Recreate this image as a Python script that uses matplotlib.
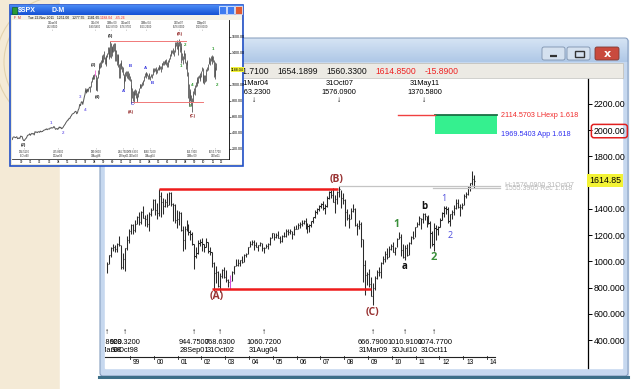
import numpy as np
import matplotlib
matplotlib.use("Agg")
import matplotlib.pyplot as plt
import matplotlib.transforms as mtransforms
from matplotlib.patches import Rectangle, FancyBboxPatch, Arc
from matplotlib.colors import LinearSegmentedColormap

plt.rcParams['font.family'] = ['Liberation Sans', 'DejaVu Sans']

W, H = 634, 389

# ---- monthly S&P 500 bars, Jan 1998 .. Jun 2013 ----
spx_high = [
    992.7, 1050.5, 1105.7, 1130.5, 1123.0, 1138.5, 1190.6, 1121.0, 1066.1, 1104.1, 1193.0, 1244.9,
    1280.4, 1283.8, 1316.5, 1347.8, 1376.0, 1383.1, 1420.3, 1350.9, 1361.4, 1373.2, 1405.0, 1473.1,
    1478.0, 1444.6, 1552.9, 1527.2, 1481.5, 1474.6, 1517.3, 1525.2, 1530.1, 1441.4, 1438.5, 1389.1,
    1383.4, 1376.4, 1267.4, 1269.3, 1315.9, 1286.6, 1239.8, 1226.3, 1135.5, 1110.6, 1163.4, 1173.0,
    1177.0, 1130.2, 1173.9, 1147.8, 1106.6, 1070.7, 994.5, 965.0, 924.0, 907.4, 941.8, 954.3,
    935.1, 864.6, 895.9, 924.2, 965.4, 1015.3, 1015.4, 1011.0, 1040.3, 1053.8, 1063.7, 1112.6,
    1155.4, 1159.0, 1163.2, 1150.6, 1127.7, 1146.3, 1140.8, 1109.7, 1131.5, 1142.1, 1188.5, 1217.3,
    1217.8, 1212.4, 1229.1, 1191.9, 1199.6, 1219.6, 1245.2, 1245.9, 1243.1, 1233.3, 1270.6, 1275.8,
    1294.9, 1297.6, 1310.9, 1318.2, 1326.7, 1290.7, 1280.4, 1306.7, 1340.3, 1389.5, 1407.9, 1431.8,
    1441.6, 1461.6, 1438.9, 1498.0, 1535.6, 1540.6, 1555.9, 1503.9, 1538.7, 1576.1, 1545.8, 1523.6,
    1471.8, 1396.0, 1359.7, 1404.6, 1440.2, 1404.1, 1292.2, 1313.2, 1303.0, 1167.0, 1007.5, 918.9,
    943.9, 877.9, 833.0, 888.7, 930.2, 956.2, 996.7, 1039.5, 1080.2, 1101.4, 1113.7, 1130.4,
    1150.5, 1112.4, 1180.2, 1219.8, 1206.0, 1131.2, 1121.0, 1129.2, 1148.9, 1196.1, 1227.1, 1262.6,
    1302.7, 1344.1, 1332.3, 1364.6, 1370.6, 1345.2, 1356.5, 1307.4, 1230.7, 1292.7, 1277.6, 1269.4,
    1333.5, 1378.0, 1419.2, 1422.4, 1415.3, 1363.5, 1391.7, 1426.7, 1474.5, 1471.0, 1434.3, 1448.0,
    1509.9, 1530.9, 1570.3, 1597.6, 1687.2, 1654.2,
]
spx_low = [
    912.8, 980.3, 1032.9, 1076.7, 1074.4, 1074.0, 1114.3, 940.0, 939.9, 923.3, 1086.5, 1136.9,
    1205.5, 1211.6, 1226.4, 1282.8, 1277.3, 1281.4, 1328.7, 1268.4, 1263.4, 1233.7, 1348.0, 1387.4,
    1350.1, 1325.1, 1346.6, 1339.4, 1361.1, 1415.7, 1413.9, 1428.3, 1419.4, 1305.8, 1294.9, 1254.1,
    1274.6, 1228.4, 1081.2, 1092.0, 1232.0, 1203.0, 1165.5, 1124.9, 944.8, 1026.8, 1054.3, 1114.3,
    1081.7, 1074.4, 1106.7, 1063.5, 1049.0, 952.9, 775.7, 833.4, 800.2, 768.6, 872.1, 871.8,
    840.3, 806.3, 788.9, 847.9, 902.8, 963.6, 962.1, 960.8, 990.4, 996.0, 1031.2, 1053.4,
    1105.1, 1124.4, 1087.2, 1107.2, 1076.3, 1113.3, 1078.8, 1060.7, 1099.2, 1090.2, 1127.6, 1173.8,
    1163.8, 1180.1, 1176.9, 1136.2, 1146.2, 1188.3, 1183.6, 1201.1, 1205.4, 1168.2, 1201.1, 1246.6,
    1245.7, 1253.6, 1268.4, 1280.7, 1245.3, 1219.3, 1224.5, 1261.3, 1290.9, 1327.1, 1361.0, 1385.9,
    1404.0, 1389.4, 1364.0, 1416.4, 1476.7, 1484.2, 1454.3, 1370.6, 1439.3, 1489.6, 1406.1, 1435.7,
    1270.1, 1316.8, 1257.0, 1324.4, 1373.1, 1272.0, 1200.4, 1247.5, 1106.4, 839.8, 741.0, 815.7,
    804.3, 734.5, 666.8, 783.3, 866.1, 888.9, 869.3, 978.5, 992.0, 1020.0, 1029.4, 1085.9,
    1071.6, 1044.5, 1105.4, 1170.7, 1040.8, 1028.3, 1010.9, 1039.7, 1049.6, 1131.9, 1173.0, 1186.6,
    1257.6, 1275.9, 1249.1, 1294.7, 1311.8, 1258.1, 1282.9, 1101.5, 1114.2, 1074.8, 1158.7, 1202.4,
    1259.3, 1312.4, 1340.0, 1357.4, 1292.0, 1266.7, 1325.4, 1354.7, 1396.6, 1403.3, 1343.4, 1398.1,
    1426.2, 1485.0, 1501.5, 1536.0, 1581.3, 1560.3,
]
spx_close = [
    980.3, 1049.3, 1101.8, 1111.8, 1090.8, 1133.8, 1120.7, 957.3, 1017.0, 1098.7, 1163.6, 1229.2,
    1279.6, 1238.3, 1286.4, 1335.2, 1301.8, 1372.7, 1328.7, 1320.4, 1282.7, 1362.9, 1388.9, 1469.3,
    1394.5, 1366.4, 1498.6, 1452.4, 1420.6, 1454.6, 1430.8, 1517.7, 1436.5, 1429.4, 1315.0, 1320.3,
    1366.0, 1239.9, 1160.3, 1249.5, 1255.8, 1224.4, 1211.2, 1133.6, 1040.9, 1059.8, 1139.5, 1148.1,
    1130.2, 1106.7, 1147.4, 1076.9, 1067.1, 989.8, 911.6, 916.1, 815.3, 885.8, 936.3, 879.8,
    855.7, 841.2, 848.2, 916.9, 963.6, 974.5, 990.3, 1008.0, 996.0, 1050.7, 1058.2, 1111.9,
    1131.1, 1144.9, 1126.2, 1107.3, 1120.7, 1140.8, 1101.7, 1104.2, 1114.6, 1130.2, 1173.8, 1211.9,
    1181.3, 1203.6, 1180.6, 1156.9, 1191.5, 1191.3, 1234.2, 1220.3, 1228.8, 1207.0, 1249.5, 1248.3,
    1280.1, 1280.7, 1294.8, 1310.6, 1270.1, 1270.2, 1276.7, 1303.8, 1335.9, 1377.9, 1400.6, 1418.3,
    1438.2, 1406.8, 1420.9, 1482.4, 1530.6, 1503.4, 1455.3, 1474.0, 1526.8, 1549.4, 1481.1, 1468.4,
    1378.6, 1330.6, 1322.7, 1385.6, 1400.4, 1280.0, 1267.4, 1282.8, 1166.4, 968.8, 896.2, 903.3,
    825.9, 735.1, 797.9, 872.8, 919.1, 919.3, 987.5, 1020.6, 1057.1, 1036.2, 1095.6, 1115.1,
    1073.9, 1104.5, 1169.4, 1186.7, 1089.4, 1030.7, 1101.6, 1049.3, 1141.2, 1183.3, 1180.6, 1257.6,
    1286.1, 1327.2, 1325.8, 1363.6, 1345.2, 1320.6, 1292.3, 1218.9, 1131.4, 1253.3, 1247.0, 1257.6,
    1312.4, 1365.7, 1408.5, 1397.9, 1310.3, 1362.2, 1379.3, 1406.6, 1440.7, 1412.2, 1416.2, 1426.2,
    1498.1, 1514.7, 1569.2, 1597.6, 1630.7, 1614.85,
]
spx_start = 1998
highlight_month = '2003-03'

# header values of the current bar
hdr_vals = ['1631.7100', '1654.1899', '1560.3300', '1614.8500', '-15.8900']
hdr_cols = ['#111111', '#111111', '#111111', '#ee2222', '#ee2222']
last_price = 1614.85

# y axis
y_ticks = [2200, 2000, 1800, 1400, 1200, 1000, 800, 600, 400]
y_labels = ['2200.00', '2000.00', '1800.00', '1400.00', '1200.00', '1000.00',
            '800.000', '600.000', '400.000']
tick_years = list(range(1999, 2015))

# pivot annotations
low_months = ['1998-01', '1998-10', '2001-09', '2002-10', '2004-08', '2009-03', '2010-07', '2011-10']
low_vals = ['912.8600', '923.3200', '944.7500', '768.6300', '1060.7200', '666.7900', '1010.9100', '1074.7700']
low_dates = ['31Mar98', '30Oct98', '28Sep01', '31Oct02', '31Aug04', '31Mar09', '30Jul10', '31Oct11']
high_months = ['2004-03', '2007-10', '2011-05']
high_vals = ['1163.2300', '1576.0900', '1370.5800']
high_dates = ['31Mar04', '31Oct07', '31May11']

# wave labels: text, year, price, colour, size, weight
waves = [
    ('(A)', 2002.66, 728, '#993333', 7.5, 'bold'),
    ('(B)', 2007.66, 1620, '#993333', 7.5, 'bold'),
    ('(C)', 2009.17, 613, '#993333', 7.5, 'bold'),
    ('1', 2010.18, 1277, '#3a8f3a', 7.5, 'bold'),
    ('a', 2010.55, 964, '#111111', 7, 'bold'),
    ('b', 2011.35, 1414, '#111111', 7, 'bold'),
    ('2', 2011.77, 1025, '#3a8f3a', 8, 'bold'),
    ('1', 2012.19, 1482, '#4c4cdd', 6.5, 'normal'),
    ('2', 2012.45, 1200, '#4c4cdd', 6.5, 'normal'),
]

# horizontal analysis lines: value, start, end
red_top = (1552.87, 2000.21, 2007.75)
red_bottom = (785.0, 2002.45, 2009.13)
lhexp = (2114.5703, 2010.26, 2014.42, '2114.5703 LHexp 1.618')
app = (1969.5403, 2011.82, 2014.42, '1969.5403 App 1.618')
grey_levels = [(1576.09, 2007.79, 2014.55, 'H:1576.0900 31Oct07'),
               (1555.3905, 2011.73, 2014.55, '1555.3905 Rec 1.618')]

# ---- inset: monthly closes Jun 1989 .. Dec 1997 ----
old_close = [
    318.0, 346.1, 351.5, 349.2, 340.4, 346.0, 353.4,
    329.1, 331.9, 339.9, 330.8, 361.2, 358.0, 356.2, 322.6, 306.1, 304.0, 322.2, 330.2,
    343.9, 367.1, 375.2, 375.4, 389.8, 371.2, 387.8, 395.4, 387.9, 392.5, 375.2, 417.1,
    408.8, 412.7, 403.7, 415.0, 415.4, 408.1, 424.2, 414.0, 417.8, 418.7, 431.4, 435.7,
    438.8, 443.4, 451.7, 440.2, 450.2, 450.5, 448.1, 463.6, 458.9, 467.8, 461.8, 466.5,
    481.6, 467.1, 445.8, 450.9, 456.5, 444.3, 458.3, 475.5, 462.7, 472.4, 453.7, 459.3,
    470.4, 487.4, 500.7, 514.7, 533.4, 544.8, 562.1, 561.9, 584.4, 581.5, 605.4, 615.9,
    636.0, 640.4, 645.5, 654.2, 669.1, 670.6, 640.0, 652.0, 687.3, 705.3, 757.0, 740.7,
    786.2, 790.8, 757.1, 801.3, 848.3, 885.1, 954.3, 899.5, 947.3, 914.6, 955.4, 970.4,
]
old_start = 1989 + 5 / 12
inset_end_month = '2011-10'
inset_last = (1277.55, 1181.65, 1188.04)   # Nov 2011 partial bar: high, low, last
inset_highlight = '1998-07'
inset_hdr = 'Tue 22-Nov-2011   1251.00   1277.55   1181.65'
inset_hdr_red = '1188.04   -65.26'
inset_ticks = [1600, 1400, 1000, 800, 600, 400, 200]
inset_years = list(range(1990, 2013))
inset_waves = [
    ('(2)', 1990.64, 245, '#222222'), ('(3)', 1998.33, 1250, '#222222'),
    ('(4)', 1998.88, 850, '#222222'), ('(5)', 2000.2, 1612, '#222222'),
    ('(A)', 2002.5, 662, '#993333'), ('(B)', 2007.9, 1637, '#993333'),
    ('(C)', 2009.3, 612, '#993333'),
    ('A', 2001.63, 925, '#3333dd'), ('B', 2002.4, 1237, '#3333dd'),
    ('C', 2002.62, 762, '#3333dd'), ('A', 2004.05, 1212, '#3333dd'),
    ('B', 2004.8, 1025, '#3333dd'),
    ('1', 2008.0, 1237, '#2e9a2e'), ('2', 2008.44, 1500, '#2e9a2e'),
    ('3', 2008.95, 737, '#2e9a2e'), ('4', 2009.2, 1000, '#2e9a2e'),
    ('1', 2011.52, 1450, '#2e9a2e'), ('2', 2011.96, 1000, '#2e9a2e'),
    ('1', 1993.7, 525, '#7b6bea'), ('2', 1995.03, 400, '#7b6bea'),
    ('3', 1996.9, 850, '#7b6bea'), ('4', 1997.45, 687, '#7b6bea'),
]
inset_top_piv = [(1993.9, '31Jan94', '482.8500'), (1998.55, '31Jul98', '1190.5800'),
                 (2000.4, '31Mar00', '1552.8700'), (2002.0, '31Jan02', '1176.9700'),
                 (2004.2, '31Mar04', '1163.2300'), (2007.8, '31Oct07', '1576.0900'),
                 (2010.3, '30Apr10', '1219.8000')]
inset_low_piv = [(1990.8, '11Oct90', '294.5100'), (1994.5, '30Jun94', '435.8600'),
                 (1998.7, '31Aug98', '939.9800'), (2001.7, '28Sep01', '944.7500'),
                 (2002.8, '31Oct02', '768.6300'), (2004.6, '31Aug04', '1060.7200'),
                 (2009.2, '31Mar09', '666.7900'), (2011.8, '31Oct11', '1074.7700')]


def t_of(ym):
    y, m = map(int, ym.split('-'))
    return y + (m - 0.5) / 12


def box(x0, y0, x1, y1):
    return [x0 / W, 1 - y1 / H, (x1 - x0) / W, (y1 - y0) / H]


def rect(a, x0, y0, x1, y1, **kw):
    a.add_patch(Rectangle((x0, y0), x1 - x0, y1 - y0, **kw))


def gradient(a, x0, y0, x1, y1, c_top, c_bot, z=1):
    cm = LinearSegmentedColormap.from_list('g', [c_top, c_bot])
    a.imshow(np.linspace(0, 1, 32).reshape(-1, 1), cmap=cm, aspect='auto',
             extent=(x0, x1, y1, y0), zorder=z, interpolation='bilinear')


fig = plt.figure(figsize=(W / 100, H / 100), dpi=100)

# ---------------- slide background and main window frame ----------------
bg = fig.add_axes([0, 0, 1, 1])
bg.axis('off')
rect(bg, 0, 0, 60, H, color='#f4ead6', zorder=0)
bg.plot([60.5, 60.5], [0, H], color='#d8c69e', lw=1.2, zorder=1)
for r in (58, 66):
    bg.add_patch(Arc((62, 62), 2 * r, 2 * r, color='#e2d2ad', lw=0.8, zorder=1))
rect(bg, 60, 0, W, H, color='white', zorder=1)

rect(bg, 100, 40, 628, 376, color='#c6d8ef', zorder=2)
gradient(bg, 100, 38, 628, 62, '#d6e4f4', '#afc8e7', z=3)
bg.add_patch(FancyBboxPatch((100, 38), 528, 338, boxstyle='round,pad=0,rounding_size=3',
                            fc='none', ec='#8199bb', lw=0.7, zorder=4))
# window buttons
for x0, x1 in ((542, 565), (567, 590)):
    bg.add_patch(FancyBboxPatch((x0, 47), x1 - x0, 13, boxstyle='round,pad=0,rounding_size=2',
                                fc='#d5e1ef', ec='#7d91ad', lw=0.6, zorder=5))
bg.plot([550, 557], [55.5, 55.5], color='#333333', lw=1.6, zorder=6, solid_capstyle='butt')
rect(bg, 574.5, 50.5, 583.5, 57, fc='none', ec='#333333', lw=1.0, zorder=6)
bg.add_patch(FancyBboxPatch((595, 47), 24, 13, boxstyle='round,pad=0,rounding_size=2',
                            fc='#c94a3e', ec='#7d3a34', lw=0.6, zorder=5))
bg.text(607, 53.8, 'x', color='white', fontsize=8, fontweight='bold', ha='center',
        va='center', family='DejaVu Sans', zorder=6)

# header strip (its left end lies under the inset window, as in the screenshot)
rect(bg, 104, 63, 623, 78, fc='#eceae4', ec='#c4c2bc', lw=0.6, zorder=5)
clip_hdr = mtransforms.TransformedBbox(mtransforms.Bbox([[243, 63], [623, 78]]), bg.transData)
for xs, v, c in zip((228, 277, 326, 375, 425), hdr_vals, hdr_cols):
    tx = bg.text(xs, 71, v, fontsize=6.2, ha='left', va='center', color=c, zorder=6)
    tx.set_clip_box(clip_hdr)
    tx.set_clip_on(True)

rect(bg, 105, 79, 622, 368, color='white', zorder=5)
bg.plot([99, 628], [377, 377], color='#3c6f88', lw=2.2, zorder=6)
bg.set_xlim(0, W)
bg.set_ylim(H, 0)

# ---------------- main price chart ----------------
ax = fig.add_axes(box(105, 79, 588, 368))
ax.patch.set_alpha(0)
n = len(spx_close)
t = spx_start + (np.arange(n) + 0.5) / 12
bar_col = ['#2a2a2a'] * n
bar_col[int(round((t_of(highlight_month) - spx_start) * 12 - 0.5))] = '#d050d8'
ax.vlines(t, spx_low, spx_high, colors=bar_col, lw=0.75)
ax.hlines(spx_close, t, t + 0.05, colors=bar_col, lw=0.8)

ax.set_xlim(1997.95, 2018.244)
ax.set_ylim(186.6, 2389.3)
for s in ('top', 'left', 'bottom'):
    ax.spines[s].set_visible(False)
ax.spines['right'].set_linewidth(0.9)
ax.set_xticks([])
ax.yaxis.tick_right()
ax.set_yticks(y_ticks)
ax.set_yticklabels(y_labels)
ax.tick_params(axis='y', direction='out', length=3, width=0.7, labelsize=6.3, pad=1)
lab2000 = ax.get_yticklabels()[y_ticks.index(2000)]
lab2000.set_bbox(dict(boxstyle='round,pad=0.25,rounding_size=0.3', fc='none',
                      ec='#e02020', lw=1.1))
ax.text(1.002, last_price, f'{last_price:.2f}', transform=mtransforms.blended_transform_factory(
    ax.transAxes, ax.transData), fontsize=6.3, ha='left', va='center',
    bbox=dict(boxstyle='square,pad=0.2', fc='#f3f335', ec='none'))

# analysis lines
ax.plot(red_top[1:], [red_top[0]] * 2, color='#ee1c1c', lw=1.8, solid_capstyle='butt')
ax.plot(red_bottom[1:], [red_bottom[0]] * 2, color='#ee1c1c', lw=1.8, solid_capstyle='butt')
for val, t0, t1, txt in grey_levels:
    ax.plot([t0, t1], [val, val], color='#c4c4c4', lw=0.9)
ax.text(grey_levels[0][2] + 0.2, grey_levels[0][0], grey_levels[0][3], fontsize=5,
        color='#b8b8b8', va='center', ha='left')
ax.text(grey_levels[1][2] + 0.2, grey_levels[1][0], grey_levels[1][3], fontsize=5,
        color='#b8b8b8', va='center', ha='left')
ax.add_patch(Rectangle((app[1], app[0]), app[2] - app[1], lhexp[0] - app[0],
                       fc='#35f08f', ec='none'))
ax.plot([app[1], app[2]], [lhexp[0], lhexp[0]], color='#1b6e44', lw=1.3)
ax.plot([lhexp[1], app[1]], [lhexp[0], lhexp[0]], color='#f04040', lw=1.0)
ax.text(lhexp[2] + 0.18, lhexp[0], lhexp[3], color='#f02a2a', fontsize=5.2, va='center')
ax.text(app[2] + 0.18, app[0], app[3], color='#3030f0', fontsize=5.2, va='center')

for txt, tx, py, col, fs, fw in waves:
    ax.text(tx, py, txt, color=col, fontsize=fs, fontweight=fw, ha='center', va='center',
            family=['Open Sans', 'DejaVu Sans'])

# pivot labels
trans = mtransforms.blended_transform_factory(ax.transData, ax.transAxes)


def fy(ypx):
    return (368 - ypx) / 289


for m, v, d in zip(low_months, low_vals, low_dates):
    x = t_of(m)
    ax.text(x, fy(333), '↑', transform=trans, fontsize=6, ha='center', va='center', clip_on=True)
    ax.text(x, fy(343), v, transform=trans, fontsize=5.3, ha='center', va='center', clip_on=True)
    ax.text(x, fy(351), d, transform=trans, fontsize=5.3, ha='center', va='center', clip_on=True)
for m, v, d in zip(high_months, high_vals, high_dates):
    x = t_of(m)
    ax.text(x, fy(83.5), d, transform=trans, fontsize=5.3, ha='center', va='center', clip_on=True)
    ax.text(x, fy(92.5), v, transform=trans, fontsize=5.3, ha='center', va='center', clip_on=True)
    ax.text(x, fy(100), '↓', transform=trans, fontsize=6, ha='center', va='center', clip_on=True)

# year axis
ax.plot([ax.get_xlim()[0], tick_years[-1] + 0.35], [fy(357)] * 2, transform=trans,
        color='#222222', lw=0.8, clip_on=False)
for yr in tick_years:
    ax.plot([yr, yr], [fy(355.5), fy(358.5)], transform=trans, color='#222222', lw=0.6)
    ax.text(yr + 0.12, fy(363), f'{yr % 100:02d}', transform=trans, fontsize=4.8,
            ha='left', va='center')

# ---------------- inset window ----------------
ib = fig.add_axes(box(0, 0, 250, 170))
ib.axis('off')
ib.add_patch(Rectangle((10, 5), 233, 161, fc='#ece9d8', ec='#2150c8', lw=1.2, zorder=1))
gradient(ib, 10, 5, 243, 15, '#4a8af5', '#1552d4', z=2)
rect(ib, 11.5, 6.5, 16.5, 13.5, fc='#2c9a34', ec='#0d5c18', lw=0.4, zorder=3)
ib.text(18, 10.2, '$SPX', color='white', fontsize=5, fontweight='bold', va='center', zorder=3)
ib.text(52, 10.2, 'D-M', color='white', fontsize=5, fontweight='bold', va='center', zorder=3)
for x0, c in ((218.5, '#3f7cf0'), (226.5, '#3f7cf0'), (234.5, '#e05a30')):
    rect(ib, x0, 6.3, x0 + 7, 13.8, fc=c, ec='white', lw=0.5, zorder=3)
rect(ib, 11.5, 15, 241.5, 20, fc='#f4f2e8', ec='none', zorder=2)
ib.text(14, 17.6, 'F  M', fontsize=2.4, color='#cc2222', va='center', zorder=3)
ib.text(28, 17.6, inset_hdr, fontsize=2.4, va='center', zorder=3)
ib.text(100, 17.6, inset_hdr_red, fontsize=2.4, va='center', color='#ee2222', zorder=3)
rect(ib, 12, 20, 241.5, 163.5, fc='white', ec='none', zorder=2)
ib.set_xlim(0, 250)
ib.set_ylim(170, 0)

iax = fig.add_axes(box(12, 20, 229, 159))
iax.patch.set_alpha(0)
t_old = old_start + (np.arange(len(old_close)) + 0.5) / 12
iax.plot(t_old, old_close, color='#555555', lw=0.7)
k = int(round((t_of(inset_end_month) - spx_start) * 12 - 0.5)) + 1
ti = list(t[:k]) + [t_of('2011-11')]
hi = list(spx_high[:k]) + [inset_last[0]]
lo = list(spx_low[:k]) + [inset_last[1]]
icol = ['#555555'] * len(ti)
icol[int(round((t_of(inset_highlight) - spx_start) * 12 - 0.5))] = '#f060d0'
iax.vlines(ti, lo, hi, colors=icol, lw=0.6)
iax.set_xlim(1989.43, 2013.28)
iax.set_ylim(75, 1812)
iax.plot([2000.2, 2008.6], [red_top[0]] * 2, color='#f07878', lw=0.7)
iax.plot([2002.6, 2010.4], [788] * 2, color='#f07878', lw=0.7)
for txt, tx, py, col in inset_waves:
    iax.text(tx, py, txt, color=col, fontsize=3.2, fontweight='bold', ha='center', va='center')
for s in ('top', 'left', 'bottom'):
    iax.spines[s].set_visible(False)
iax.spines['right'].set_linewidth(0.6)
iax.set_xticks([])
iax.yaxis.tick_right()
iax.set_yticks(inset_ticks)
iax.set_yticklabels([f'{v:.2f}' for v in inset_ticks])
iax.tick_params(axis='y', direction='out', length=1.5, width=0.4, labelsize=2.6, pad=0.5)
iax.text(1.01, inset_last[2], f'{inset_last[2]:.2f}', transform=mtransforms.blended_transform_factory(
    iax.transAxes, iax.transData), fontsize=2.6, va='center',
    bbox=dict(boxstyle='square,pad=0.15', fc='#f3f335', ec='none'))
itr = mtransforms.blended_transform_factory(iax.transData, iax.transAxes)
for x, d, v in inset_top_piv:
    iax.text(x, 0.99, d + '\n' + v + '\n↓', transform=itr, fontsize=1.9, ha='center',
             va='top', linespacing=0.85, color='#333333')
for x, d, v in inset_low_piv:
    iax.text(x, 0.008, '↑\n' + v + '\n' + d, transform=itr, fontsize=1.9, ha='center',
             va='bottom', linespacing=0.85, color='#333333')
iax.plot([1989.43, 2013.28], [0, 0], transform=itr, color='#333333', lw=0.6, clip_on=False)
for yr in inset_years:
    iax.text(yr + 0.5, -0.025, f'{yr % 100:02d}', transform=itr, fontsize=2.2,
             ha='center', va='center')

fig.savefig('out.png', dpi=100)
